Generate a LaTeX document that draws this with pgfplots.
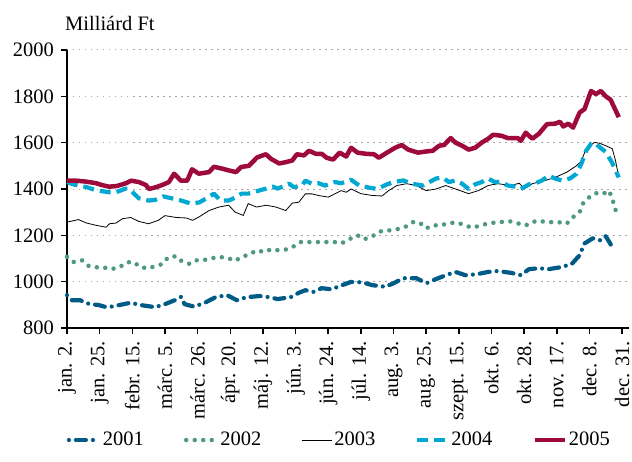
\documentclass[border=0pt]{standalone}
\usepackage{fontspec}
\setmainfont{Liberation Serif}
\usepackage{pgfplots}
\pgfplotsset{compat=1.18}
\definecolor{cA}{RGB}{0,90,135}
\definecolor{cB}{RGB}{78,154,122}
\definecolor{cD}{RGB}{0,168,210}
\definecolor{cE}{RGB}{158,11,59}
\begin{document}
\fontsize{20.5}{24}\selectfont
\begin{tikzpicture}
\begin{axis}[
  scale only axis, width=561.6pt, height=278pt,
  xmin=0, xmax=17.2, ymin=800, ymax=2000,
  axis x line*=bottom, axis y line*=left,
  axis line style={line width=2pt, black},
  xtick={0,...,17},
  xticklabels={jan. 2.,jan. 25.,febr. 15.,márc. 5.,márc. 26.,ápr. 20.,máj. 12.,jún. 3.,jún. 24.,júl. 14.,aug. 3.,aug. 25.,szept. 15.,okt. 6.,okt. 28.,nov. 17.,dec. 8.,dec. 31.},
  xticklabel style={rotate=90, anchor=east, font=\fontsize{20.5}{24}\selectfont},
  yticklabel style={font=\fontsize{20.5}{24}\selectfont},
  ytick={800,1000,...,2000},
  ymajorgrids,
  grid style={gray!70, line width=1pt, dash pattern=on 1.5pt off 4.5pt},
  tick align=outside, major tick length=6pt,
  tick style={black, line width=1.5pt},
  /pgf/number format/assume math mode=true,
  /pgf/number format/1000 sep={},
  clip=false,
  legend columns=5,
  legend style={at={(0.485,-0.403)}, anchor=center, draw=none, fill=none,
    font=\fontsize{20.5}{24}\selectfont,
    /tikz/every even column/.append style={column sep=38pt}},
  legend image code/.code={\draw[#1] (0pt,0pt) -- (30pt,0pt);},
]
\addplot[cA, line width=4.2pt, line cap=round, line join=round, dash pattern=on 0pt off 7pt on 10pt off 7pt] coordinates {
(0,942)(0.15,920)(0.4,920)(0.6,909)(0.67,904)(0.97,899)(1.2,890)(1.4,893)(1.6,899)(1.95,909)(2.25,899)(2.5,894)(2.7,890)(3.0,903)(3.3,920)(3.5,935)(3.6,903)(3.9,892)(4.25,911)(4.55,933)(4.9,942)(5.2,920)(5.5,933)(5.9,938)(6.2,933)(6.45,925)(6.85,933)(7.1,952)(7.3,963)(7.55,956)(7.8,972)(8.1,967)(8.35,981)(8.7,999)(9.05,997)(9.35,985)(9.75,978)(10.0,993)(10.3,1015)(10.7,1015)(11.0,993)(11.3,1011)(11.6,1028)(11.9,1042)(12.2,1028)(12.55,1032)(12.9,1042)(13.2,1046)(13.6,1038)(13.9,1028)(14.15,1054)(14.45,1058)(14.75,1054)(15.1,1062)(15.45,1075)(15.7,1114)(15.85,1165)(16.1,1187)(16.35,1178)(16.5,1196)(16.7,1150)
};
\addlegendentry{2001}
\addplot[cB, line width=4.5pt, line cap=round, dash pattern=on 0pt off 8.5pt] coordinates {
(0,1107)(0.2,1085)(0.47,1092)(0.67,1067)(0.9,1062)(1.1,1062)(1.35,1054)(1.6,1062)(1.85,1084)(2.05,1084)(2.25,1062)(2.5,1058)(2.7,1067)(2.9,1075)(3.1,1105)(3.35,1110)(3.5,1090)(3.75,1077)(3.95,1092)(4.15,1092)(4.4,1100)(4.65,1107)(4.9,1103)(5.15,1090)(5.35,1107)(5.6,1118)(5.8,1135)(6.05,1128)(6.25,1140)(6.5,1135)(6.75,1140)(6.95,1153)(7.15,1171)(7.4,1171)(7.7,1171)(7.95,1171)(8.2,1171)(8.4,1165)(8.7,1187)(8.9,1200)(9.1,1183)(9.35,1196)(9.6,1217)(9.85,1221)(10.1,1226)(10.4,1239)(10.6,1257)(10.8,1255)(11.0,1230)(11.2,1243)(11.45,1243)(11.7,1253)(11.95,1255)(12.2,1243)(12.4,1233)(12.7,1243)(12.85,1250)(13.2,1257)(13.6,1260)(13.85,1250)(14.05,1243)(14.25,1257)(14.45,1264)(14.65,1257)(14.85,1257)(15.05,1257)(15.3,1250)(15.5,1279)(15.7,1300)(15.8,1337)(16.0,1365)(16.2,1382)(16.4,1378)(16.6,1393)(16.7,1358)(16.85,1286)
};
\addlegendentry{2002}
\addplot[black, line width=0.8pt] coordinates {
(0,1257)(0.35,1268)(0.6,1253)(0.9,1243)(1.2,1235)(1.3,1250)(1.5,1253)(1.7,1272)(1.95,1277)(2.2,1260)(2.5,1250)(2.8,1265)(3.0,1285)(3.35,1277)(3.65,1275)(3.85,1265)(4.05,1280)(4.35,1307)(4.65,1322)(4.95,1330)(5.15,1300)(5.4,1286)(5.55,1337)(5.8,1322)(6.1,1330)(6.4,1322)(6.7,1307)(6.9,1339)(7.1,1343)(7.3,1379)(7.5,1379)(7.7,1372)(8.0,1365)(8.2,1379)(8.4,1393)(8.55,1386)(8.7,1400)(9.0,1380)(9.35,1372)(9.65,1370)(9.85,1393)(10.1,1415)(10.4,1423)(10.7,1415)(11.0,1393)(11.3,1400)(11.6,1415)(11.9,1400)(12.3,1380)(12.6,1393)(12.9,1415)(13.2,1423)(13.6,1415)(13.85,1425)(14.0,1402)(14.25,1423)(14.65,1437)(14.95,1450)(15.3,1472)(15.6,1500)(15.75,1520)(15.9,1574)(16.15,1601)(16.3,1598)(16.5,1587)(16.7,1574)(16.8,1522)(16.9,1451)
};
\addlegendentry{2003}
\addplot[cD, line width=4.2pt, line join=round, dash pattern=on 11pt off 6pt] coordinates {
(0,1430)(0.2,1420)(0.6,1408)(0.9,1394)(1.3,1386)(1.5,1386)(1.8,1402)(1.95,1394)(2.2,1360)(2.5,1350)(2.7,1353)(2.95,1368)(3.2,1360)(3.5,1350)(3.8,1337)(4.05,1342)(4.25,1358)(4.5,1380)(4.7,1350)(4.95,1350)(5.15,1363)(5.35,1380)(5.55,1380)(5.9,1394)(6.1,1402)(6.3,1410)(6.45,1402)(6.7,1415)(6.8,1423)(6.95,1408)(7.2,1415)(7.3,1436)(7.5,1423)(7.7,1425)(7.9,1415)(8.2,1430)(8.4,1425)(8.7,1440)(8.95,1415)(9.25,1406)(9.5,1400)(9.8,1420)(10.0,1430)(10.3,1437)(10.55,1423)(10.9,1415)(11.1,1430)(11.3,1445)(11.5,1450)(11.7,1430)(11.9,1437)(12.1,1423)(12.3,1400)(12.5,1420)(12.7,1430)(12.9,1445)(13.1,1430)(13.3,1430)(13.5,1415)(13.75,1410)(13.9,1400)(14.15,1420)(14.35,1425)(14.55,1437)(14.75,1458)(14.95,1445)(15.15,1437)(15.4,1445)(15.6,1465)(15.75,1508)(15.9,1565)(16.05,1595)(16.15,1600)(16.3,1582)(16.5,1560)(16.7,1512)(16.9,1450)
};
\addlegendentry{2004}
\addplot[cE, line width=4.5pt, line join=round] coordinates {
(0,1436)(0.28,1436)(0.58,1432)(0.89,1425)(1.07,1417)(1.29,1410)(1.53,1413)(1.81,1425)(1.96,1436)(2.2,1430)(2.42,1417)(2.51,1400)(2.73,1408)(2.91,1417)(3.12,1430)(3.28,1466)(3.49,1436)(3.68,1436)(3.83,1485)(4.04,1466)(4.35,1473)(4.5,1496)(4.75,1488)(4.96,1480)(5.18,1473)(5.33,1495)(5.57,1500)(5.82,1536)(6.09,1550)(6.25,1530)(6.5,1510)(6.7,1516)(6.9,1523)(7.04,1550)(7.26,1545)(7.41,1565)(7.62,1552)(7.8,1552)(7.95,1535)(8.15,1527)(8.35,1557)(8.55,1540)(8.7,1578)(8.9,1557)(9.15,1552)(9.4,1550)(9.55,1535)(9.8,1557)(10.05,1578)(10.25,1590)(10.45,1570)(10.75,1557)(11.0,1562)(11.2,1565)(11.4,1587)(11.55,1590)(11.75,1620)(11.9,1600)(12.1,1587)(12.3,1570)(12.5,1578)(12.7,1600)(12.9,1617)(13.05,1634)(13.3,1630)(13.5,1620)(13.8,1620)(13.9,1608)(14.05,1643)(14.25,1617)(14.45,1638)(14.7,1680)(14.95,1682)(15.1,1690)(15.2,1670)(15.35,1682)(15.5,1665)(15.7,1730)(15.85,1745)(16.05,1823)(16.2,1810)(16.35,1823)(16.5,1800)(16.65,1785)(16.9,1710)
};
\addlegendentry{2005}
\node[anchor=base west, inner sep=0pt] at (rel axis cs:0,1) [xshift=-2pt, yshift=20pt] {Milliárd Ft};
\end{axis}
\pgfresetboundingbox
\path (-67pt,-133pt) rectangle (565pt,328pt);
\end{tikzpicture}
\end{document}
